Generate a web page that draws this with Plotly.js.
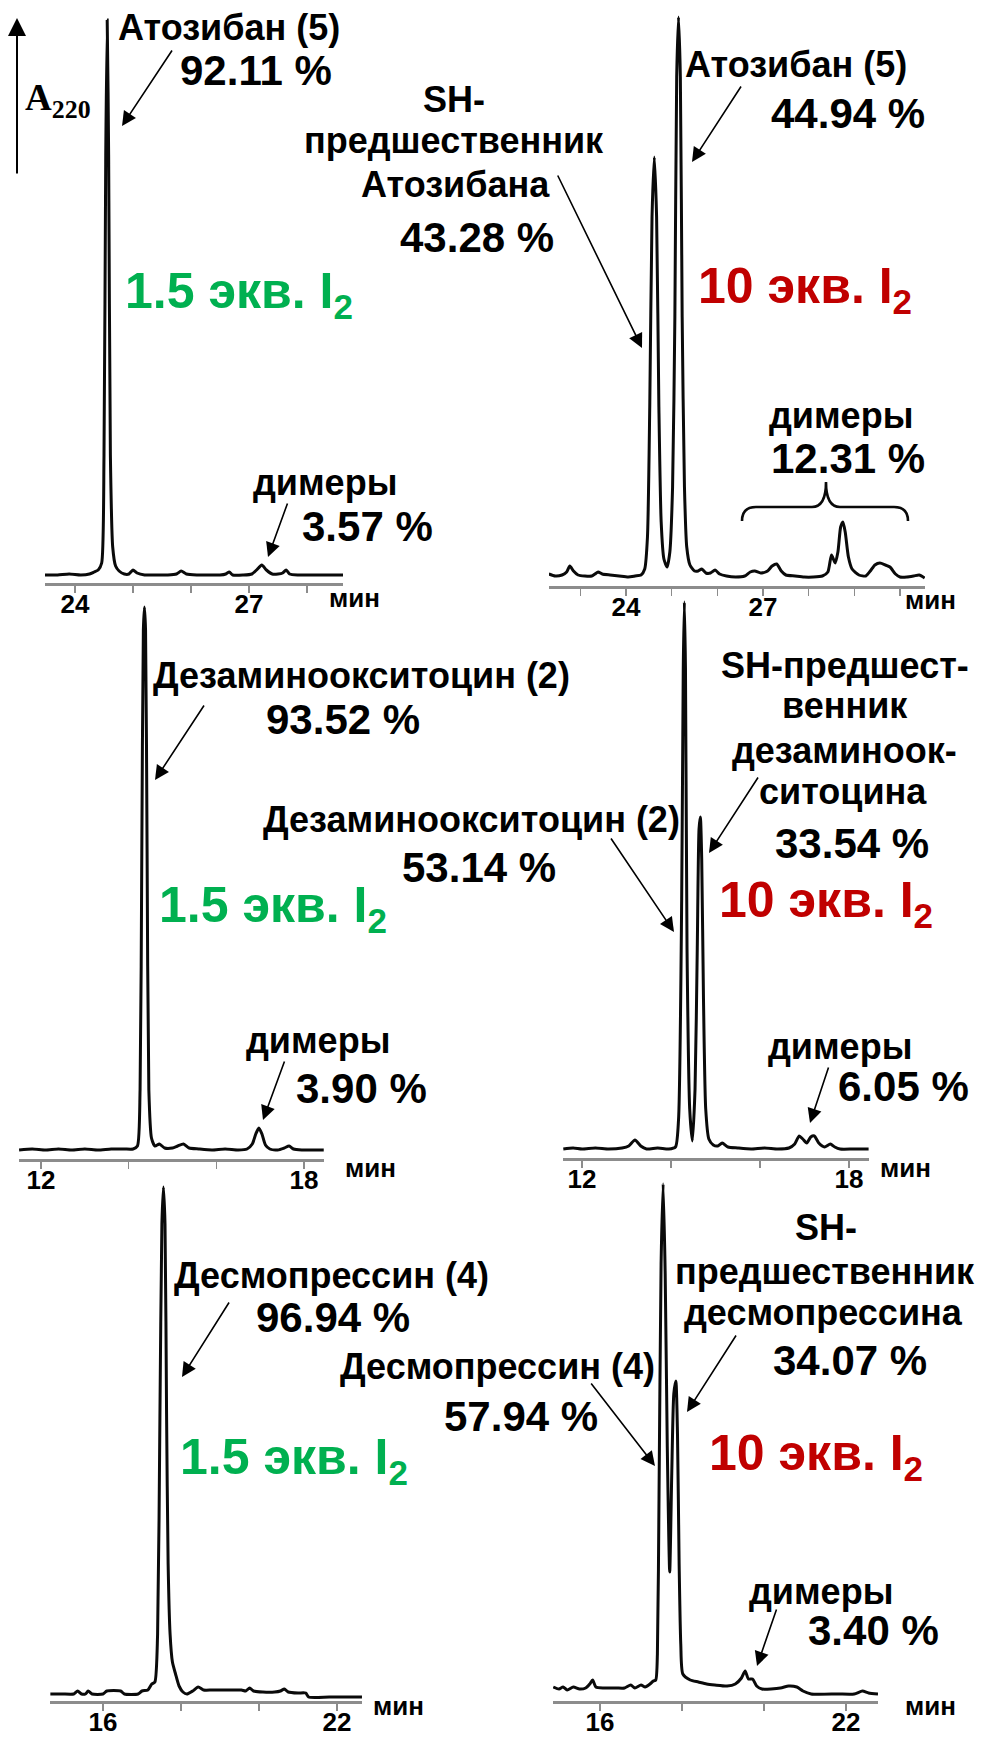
<!DOCTYPE html>
<html>
<head>
<meta charset="utf-8">
<script src="https://cdn.plot.ly/plotly-3.0.1.min.js"></script>
<style>
  html, body { margin: 0; padding: 0; background: #fff; }
  #chart { width: 984px; height: 1740px; }
</style>
</head>
<body>
<div id="chart"></div>
<script>
// ---- Chromatogram data: retention time (min) and absorbance at 220 nm (arb. units) ----

// Atosiban, 1.5 eq. I2
const atoLowT = [23.48, 23.7, 23.9, 24.1, 24.25, 24.33, 24.4, 24.46, 24.50, 24.53, 24.555, 24.58, 24.61, 24.65, 24.70, 24.76, 24.85, 24.93, 25.0, 25.07, 25.2, 25.4, 25.6, 25.75, 25.83, 25.92, 26.1, 26.3, 26.5, 26.6, 26.66, 26.72, 26.9, 27.05, 27.13, 27.22, 27.3, 27.4, 27.5, 27.58, 27.64, 27.7, 27.85, 28.1, 28.35, 28.62];
const atoLowA = [0, 0, 1, 0, 1, 3, 5, 12, 120, 420, 555, 420, 120, 28, 9, 4, 1, 1, 5, 2, 0, 0, 0, 1, 4, 1, 0, 0, 0, 1, 3, 0, 0, 1, 5, 10, 5, 1, 1, 2, 5, 1, 0, 0, 0, 0];

// Atosiban, 10 eq. I2
const atoHighT = [22.31, 22.45, 22.6, 22.7, 22.77, 22.85, 22.95, 23.1, 23.25, 23.32, 23.39, 23.48, 23.65, 23.85, 24.05, 24.2, 24.33, 24.41, 24.47, 24.52, 24.57, 24.62, 24.67, 24.72, 24.77, 24.83, 24.90, 24.96, 25.02, 25.07, 25.11, 25.15, 25.19, 25.23, 25.28, 25.33, 25.40, 25.5, 25.58, 25.66, 25.75, 25.85, 25.95, 26.05, 26.2, 26.4, 26.6, 26.72, 26.82, 26.95, 27.1, 27.2, 27.3, 27.4, 27.5, 27.7, 27.9, 28.1, 28.3, 28.42, 28.5, 28.58, 28.64, 28.7, 28.75, 28.8, 28.87, 28.95, 29.1, 29.25, 29.35, 29.45, 29.56, 29.68, 29.78, 29.9, 30.0, 30.15, 30.3, 30.42, 30.54];
const atoHighA = [3, 1, 2, 5, 11, 6, 2, 1, 1, 3, 5, 3, 2, 1, 0, 1, 2, 8, 40, 170, 360, 420, 360, 170, 55, 18, 10, 25, 90, 260, 500, 560, 500, 260, 90, 30, 12, 6, 6, 8, 4, 4, 7, 3, 1, 0, 1, 5, 6, 4, 6, 11, 13, 6, 2, 1, 0, 0, 1, 5, 22, 14, 25, 50, 55, 45, 20, 8, 2, 1, 6, 12, 14, 12, 10, 3, 0, 0, 1, 2, -1];

// Desaminooxytocin, 1.5 eq. I2
const dezLowT = [11.5, 11.8, 12.1, 12.4, 12.7, 13.0, 13.3, 13.6, 13.9, 14.1, 14.2, 14.26, 14.30, 14.335, 14.36, 14.385, 14.42, 14.46, 14.52, 14.6, 14.7, 14.82, 15.0, 15.12, 15.25, 15.38, 15.6, 15.9, 16.2, 16.5, 16.7, 16.82, 16.9, 16.97, 17.04, 17.12, 17.22, 17.4, 17.55, 17.66, 17.76, 17.95, 18.2, 18.45];
const dezLowA = [0, 1, 0, 1, 0, 1, 0, 1, 1, 1, 4, 60, 300, 520, 543, 520, 300, 60, 12, 4, 6, 2, 2, 4, 6, 2, 1, 0, 1, 0, 1, 6, 16, 22, 16, 5, 1, 0, 2, 4, 1, 0, 0, 0];

// Desaminooxytocin, 10 eq. I2
const dezHighT = [11.58, 11.8, 12.0, 12.3, 12.6, 12.9, 13.05, 13.19, 13.32, 13.45, 13.7, 13.95, 14.1, 14.17, 14.24, 14.275, 14.30, 14.325, 14.36, 14.42, 14.48, 14.54, 14.59, 14.63, 14.66, 14.69, 14.73, 14.78, 14.85, 14.95, 15.05, 15.15, 15.28, 15.5, 15.8, 16.1, 16.4, 16.65, 16.78, 16.88, 16.96, 17.05, 17.14, 17.22, 17.32, 17.45, 17.58, 17.68, 17.8, 18.1, 18.44];
const dezHighA = [0, 1, 0, 1, 0, 1, 3, 9, 3, 0, 1, 0, 2, 30, 250, 480, 547, 480, 200, 40, 8, 60, 200, 320, 332, 290, 150, 40, 10, 4, 3, 6, 2, 1, 0, 1, 0, 1, 5, 13, 10, 6, 12, 13, 6, 2, 5, 2, 0, 0, 0];

// Desmopressin, 1.5 eq. I2
const desLowT = [14.65, 14.95, 15.25, 15.35, 15.45, 15.55, 15.62, 15.72, 16.0, 16.1, 16.45, 16.55, 16.9, 17.0, 17.15, 17.25, 17.33, 17.40, 17.46, 17.51, 17.55, 17.59, 17.63, 17.67, 17.72, 17.78, 17.86, 17.95, 18.05, 18.15, 18.3, 18.44, 18.58, 18.8, 19.2, 19.55, 19.66, 19.76, 19.86, 20.1, 20.4, 20.55, 20.65, 20.75, 21.0, 21.2, 21.27, 21.8, 22.3, 22.64];
const desLowA = [0, 0, 0, 3, 0, 0, 3, 0, 0, 3, 3, 0, 0, 3, 4, 10, 12, 60, 280, 470, 507, 470, 280, 130, 60, 32, 20, 8, 2, 0, 3, 7, 4, 4, 4, 4, 3, 6, 3, 2, 2, 3, 5, 2, 1, 1, -3, -3, -3, -3];

// Desmopressin, 10 eq. I2
const desHighT = [14.86, 15.0, 15.1, 15.2, 15.35, 15.5, 15.65, 15.75, 15.82, 15.9, 16.1, 16.4, 16.6, 16.75, 16.85, 17.0, 17.1, 17.22, 17.3, 17.36, 17.40, 17.44, 17.49, 17.54, 17.59, 17.64, 17.70, 17.75, 17.80, 17.85, 17.89, 17.93, 17.97, 18.02, 18.2, 18.4, 18.6, 18.8, 19.1, 19.3, 19.45, 19.54, 19.62, 19.72, 19.82, 19.95, 20.4, 20.6, 20.8, 20.95, 21.15, 21.8, 22.2, 22.4, 22.55, 22.78];
const desHighA = [7, 5, 7, 4, 7, 5, 6, 10, 14, 7, 6, 6, 6, 9, 6, 9, 7, 10, 13, 14, 40, 200, 430, 510, 420, 250, 122, 220, 300, 313, 260, 130, 50, 20, 14, 12, 10, 9, 8, 10, 16, 23, 15, 15, 8, 5, 6, 8, 7, 3, 0, 0, 0, 3, 1, 0];

// Time axis ticks
const atoLowTicks = [24, 25, 26, 27, 28];
const atoLowTickText = ['24', '', '', '27', ''];
const atoHighTicks = [23, 24, 25, 26, 27, 28, 29, 30];
const atoHighTickText = ['', '24', '', '', '27', '', '', ''];
const dezTicks = [12, 14, 16, 18];
const dezTickText = ['12', '', '', '18'];
const desTicks = [16, 18, 20, 22];
const desTickText = ['16', '', '', '22'];

// ---- Page geometry (pixels on the 984 x 1740 page) ----
const W = 984, H = 1740;
const fx = x => x / W;
const fy = y => 1 - y / H;

const FONT = 'Liberation Sans, Arial, Helvetica, sans-serif';
const GREEN = '#00B050';
const RED = '#C00000';

const panels = [
  { t: atoLowT,  a: atoLowA,  x0: 45,  x1: 343, baseY: 575,  axisY: 583,  topY: 15,   range: [23.483, 28.62], tv: atoLowTicks,  tt: atoLowTickText },
  { t: atoHighT, a: atoHighA, x0: 549, x1: 925, baseY: 577,  axisY: 586,  topY: 12,   range: [22.314, 30.547], tv: atoHighTicks, tt: atoHighTickText },
  { t: dezLowT,  a: dezLowA,  x0: 19,  x1: 324, baseY: 1150, axisY: 1159, topY: 600,  range: [11.498, 18.456], tv: dezTicks, tt: dezTickText },
  { t: dezHighT, a: dezHighA, x0: 563, x1: 869, baseY: 1149, axisY: 1158, topY: 596,  range: [11.573, 18.449], tv: dezTicks, tt: dezTickText },
  { t: desLowT,  a: desLowA,  x0: 50,  x1: 362, baseY: 1694, axisY: 1701, topY: 1179, range: [14.641, 22.641], tv: desTicks, tt: desTickText },
  { t: desHighT, a: desHighA, x0: 553, x1: 878, baseY: 1694, axisY: 1701, topY: 1176, range: [14.854, 22.78],  tv: desTicks, tt: desTickText }
];

const traces = [];
const layout = {
  width: W, height: H,
  margin: { l: 0, r: 0, t: 0, b: 0 },
  paper_bgcolor: '#fff', plot_bgcolor: 'rgba(0,0,0,0)',
  showlegend: false, hovermode: false,
  annotations: [], shapes: []
};

panels.forEach((p, i) => {
  const n = i + 1;
  const sfx = n === 1 ? '' : String(n);
  const lo = p.baseY - p.axisY;
  const hi = lo + (p.axisY - p.topY);
  traces.push({
    x: p.t, y: p.a, type: 'scatter', mode: 'lines',
    line: { color: '#0a0a0a', width: 3, shape: 'spline', smoothing: 0.6 },
    xaxis: 'x' + sfx, yaxis: 'y' + sfx,
    hoverinfo: 'skip'
  });
  layout['xaxis' + sfx] = {
    domain: [fx(p.x0), fx(p.x1)], range: p.range,
    anchor: 'y' + sfx,
    showline: true, linecolor: '#8c8c8c', linewidth: 3,
    ticks: 'outside', ticklen: 7, tickwidth: 1.6, tickcolor: '#8c8c8c',
    tickmode: 'array', tickvals: p.tv, ticktext: p.tt.map(s => s ? '<b>' + s + '</b>' : ''),
    tickfont: { family: FONT, size: 26, color: '#000' },
    ticklabelstandoff: -11,
    showgrid: false, zeroline: false, fixedrange: true
  };
  layout['yaxis' + sfx] = {
    domain: [fy(p.axisY), fy(p.topY)], range: [lo, hi],
    anchor: 'x' + sfx,
    visible: false, showgrid: false, zeroline: false, fixedrange: true
  };
});

// Text labels: [text, x, y, size, color, xanchor]
const texts = [
  // Atosiban, 1.5 eq.
  ['Атозибан (5)', 229, 28, 36, '#000', 'center'],
  ['92.11 %', 256, 70, 42, '#000', 'center'],
  ['1.5 экв. I<sub>2</sub>', 123, 294, 50, GREEN, 'left'],
  ['димеры', 325, 482, 36, '#000', 'center'],
  ['3.57 %', 367, 526, 42, '#000', 'center'],
  // Atosiban, 10 eq.
  ['SH-', 454, 99, 36, '#000', 'center'],
  ['предшественник', 454, 140, 36, '#000', 'center'],
  ['Атозибана', 455, 184, 36, '#000', 'center'],
  ['43.28 %', 477, 237, 42, '#000', 'center'],
  ['Атозибан (5)', 796, 65, 36, '#000', 'center'],
  ['44.94 %', 848, 113, 42, '#000', 'center'],
  ['10 экв. I<sub>2</sub>', 696, 290, 50, RED, 'left'],
  ['димеры', 841, 415, 36, '#000', 'center'],
  ['12.31 %', 848, 458, 42, '#000', 'center'],
  // Desaminooxytocin, 1.5 eq.
  ['Дезаминоокситоцин (2)', 361, 675, 36, '#000', 'center'],
  ['93.52 %', 343, 720, 42, '#000', 'center'],
  ['1.5 экв. I<sub>2</sub>', 157, 908, 50, GREEN, 'left'],
  ['димеры', 318, 1040, 36, '#000', 'center'],
  ['3.90 %', 361, 1088, 42, '#000', 'center'],
  // Desaminooxytocin, 10 eq.
  ['SH-предшест-', 845, 665, 36, '#000', 'center'],
  ['венник', 845, 706, 36, '#000', 'center'],
  ['дезаминоок-', 844, 750, 36, '#000', 'center'],
  ['ситоцина', 843, 791, 36, '#000', 'center'],
  ['33.54 %', 852, 843, 42, '#000', 'center'],
  ['10 экв. I<sub>2</sub>', 717, 904, 50, RED, 'left'],
  ['Дезаминоокситоцин (2)', 471, 819, 36, '#000', 'center'],
  ['53.14 %', 479, 867, 42, '#000', 'center'],
  ['димеры', 840, 1046, 36, '#000', 'center'],
  ['6.05 %', 903, 1086, 42, '#000', 'center'],
  // Desmopressin, 1.5 eq.
  ['Десмопрессин (4)', 331, 1275, 36, '#000', 'center'],
  ['96.94 %', 333, 1317, 42, '#000', 'center'],
  ['1.5 экв. I<sub>2</sub>', 178, 1460, 50, GREEN, 'left'],
  // Desmopressin, 10 eq.
  ['SH-', 826, 1227, 36, '#000', 'center'],
  ['предшественник', 825, 1271, 36, '#000', 'center'],
  ['десмопрессина', 823, 1312, 36, '#000', 'center'],
  ['34.07 %', 850, 1360, 42, '#000', 'center'],
  ['Десмопрессин (4)', 497, 1366, 36, '#000', 'center'],
  ['57.94 %', 521, 1416, 42, '#000', 'center'],
  ['10 экв. I<sub>2</sub>', 707, 1456, 50, RED, 'left'],
  ['димеры', 821, 1591, 36, '#000', 'center'],
  ['3.40 %', 873, 1630, 42, '#000', 'center'],
  // time unit labels
  ['мин', 354, 598, 26, '#000', 'center'],
  ['мин', 930, 600, 26, '#000', 'center'],
  ['мин', 370, 1168, 26, '#000', 'center'],
  ['мин', 905, 1168, 26, '#000', 'center'],
  ['мин', 398, 1706, 26, '#000', 'center'],
  ['мин', 930, 1706, 26, '#000', 'center']
];

texts.forEach(([txt, x, y, size, color, anchor]) => {
  layout.annotations.push({
    text: '<b>' + txt + '</b>', x: fx(x), y: fy(y), xref: 'paper', yref: 'paper',
    xanchor: anchor, yanchor: 'middle', showarrow: false,
    font: { family: FONT, size: size, color: color }
  });
});

// Absorbance label
layout.annotations.push({
  text: '<b>A<sub>220</sub></b>', x: fx(23), y: fy(100), xref: 'paper', yref: 'paper',
  xanchor: 'left', yanchor: 'middle', showarrow: false,
  font: { family: 'Liberation Serif, Times New Roman, serif', size: 37, color: '#000' }
});

// Arrows: [tailX, tailY, tipX, tipY, width]
const arrows = [
  [17, 175, 17, 18, 2],
  [173, 49, 122, 126, 1.6],
  [288, 502, 268, 557, 1.6],
  [742, 85, 692, 162, 1.6],
  [557, 174, 642, 348, 1.6],
  [205, 704, 155, 780, 1.6],
  [285, 1060, 263, 1120, 1.6],
  [759, 776, 709, 853, 1.6],
  [610, 837, 674, 932, 1.6],
  [829, 1066, 810, 1123, 1.6],
  [230, 1301, 182, 1377, 1.6],
  [737, 1334, 687, 1412, 1.6],
  [590, 1382, 655, 1466, 1.6],
  [777, 1608, 757, 1666, 1.6]
];
arrows.forEach(([tx, ty, hx, hy, w]) => {
  layout.annotations.push({
    text: '', x: fx(hx), y: fy(hy), xref: 'paper', yref: 'paper',
    ax: tx - hx, ay: ty - hy, axref: 'pixel', ayref: 'pixel',
    showarrow: true, arrowhead: 2, arrowsize: 1.8, arrowwidth: w,
    arrowcolor: '#000', standoff: 0, startstandoff: 0
  });
});

// Curly brace grouping the dimer peaks
const bracePts = [
  ['M', 742, 521], ['Q', 742, 507, 756, 507], ['L', 812, 507],
  ['Q', 826, 507, 826, 482], ['Q', 826, 507, 840, 507], ['L', 894, 507],
  ['Q', 908, 507, 908, 521]
];
const bracePath = bracePts.map(seg => {
  const cmd = seg[0];
  const nums = seg.slice(1);
  const parts = [];
  for (let k = 0; k < nums.length; k += 2) parts.push(fx(nums[k]).toFixed(5) + ',' + fy(nums[k + 1]).toFixed(5));
  return cmd + ' ' + parts.join(' ');
}).join(' ');
layout.shapes.push({
  type: 'path', xref: 'paper', yref: 'paper', path: bracePath,
  line: { color: '#0a0a0a', width: 2.6 }
});

Plotly.newPlot('chart', traces, layout, { staticPlot: true, displayModeBar: false });
</script>
</body>
</html>
